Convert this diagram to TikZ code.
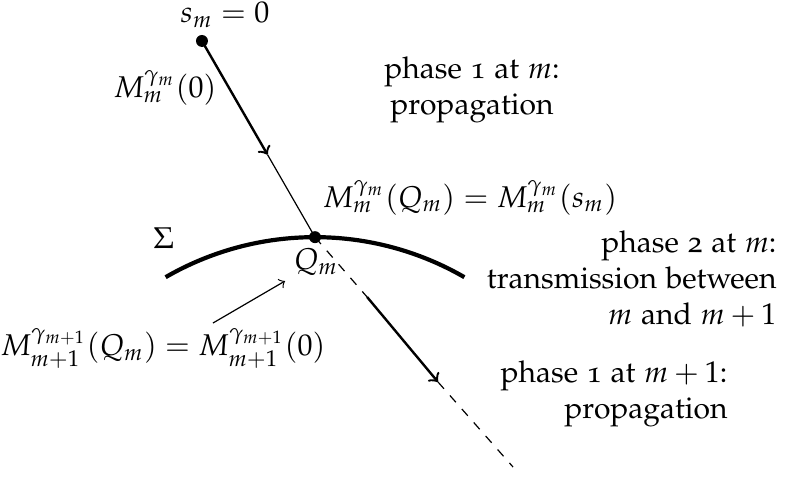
\documentclass[tikz,border=0pt]{standalone}
\usepackage[T1]{fontenc}
\usepackage[osf]{mathpazo}
\usepackage{amsmath}
\usepackage{amssymb}

\begin{document}
\begin{tikzpicture}
            \useasboundingbox (0,0) rectangle (9.196,5.588);
            % points on the ray
            \coordinate (sm) at (2.366,5.108);
            \coordinate (a1) at (3.134,3.776);
            \coordinate (qm) at (3.690,2.810);
            \coordinate (b0) at (4.300,2.109);
            \coordinate (b1) at (5.131,1.113);
            \coordinate (end) at (6.010,0.117);
            \coordinate (tail) at (2.495,1.804);
            \coordinate (head) at (3.339,2.296);
            % interface
            \draw[line width=1.4pt] (1.940,2.341) arc[start angle=120, end angle=60, radius=3.5];
            \draw[thick, ->] (sm) -- (a1);
            \draw (a1) -- (qm);
            \draw[dashed] (qm) -- (b0);
            \draw[thick, ->] (b0) -- (b1);
            \draw[dashed] (b1) -- (end);
            \draw[->] (tail) -- (head);
            \fill (sm) circle (0.07);
            \fill (qm) circle (0.07);
            % labels
            \node (smlab) at (2.636,5.412) {$s_m = 0$};
            \node (m0) at (1.933,4.557) {$M_m^{\gamma_m}(0)$};
            \node (mq) at (5.506,3.268) {$M_m^{\gamma_m}(Q_m) = M_m^{\gamma_m}(s_m)$};
            \node (sig) at (1.921,2.800) {$\Sigma$};
            \node (qlab) at (3.702,2.519) {$Q_m$};
            \node (mq1) at (1.910,1.511) {$M_{m+1}^{\gamma_{m+1}}(Q_m) = M_{m+1}^{\gamma_{m+1}}(0)$};
            \node[align=center] (ph1) at (5.529,4.534) {phase 1 at $m$:\\ propagation};
            \node[align=right, anchor=east, inner sep=0pt] (ph2) at (9.103,2.320) {phase 2 at $m$:\\ transmission between\\ $m$ and $m+1$};
            \node[align=right, anchor=east, inner sep=0pt] (ph3) at (8.529,0.972) {phase 1 at $m+1$:\\ propagation};
        \end{tikzpicture}
\end{document}
